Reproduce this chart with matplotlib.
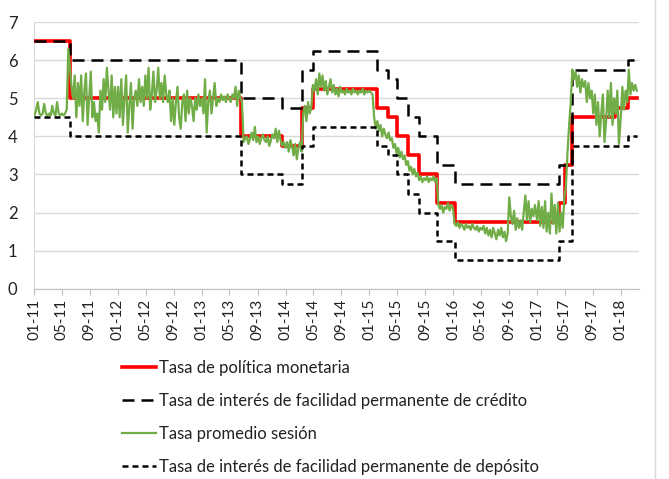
import matplotlib
matplotlib.use('Agg')
import matplotlib.pyplot as plt
import matplotlib.dates as mdates
from matplotlib.lines import Line2D
import pandas as pd

plt.rcParams['font.family'] = ['Lato', 'DejaVu Sans']

# step series: date of change -> value
tpm_dates = ['2011-01-01', '2011-06-06', '2013-06-20', '2013-12-15', '2014-03-12',
             '2014-05-01', '2015-02-03', '2015-03-24', '2015-05-01', '2015-06-18',
             '2015-08-05', '2015-10-25', '2016-01-10', '2017-04-06', '2017-05-04',
             '2017-06-01', '2017-12-07', '2018-02-01', '2018-03-12']
tpm = [6.5, 5.0, 4.0, 3.75, 4.75, 5.25, 4.75, 4.5, 4.0, 3.5, 3.0, 2.25, 1.75,
       2.25, 3.25, 4.5, 4.75, 5.0, 5.0]

band_dates = ['2011-01-01', '2011-06-06', '2013-06-20', '2013-12-15', '2014-03-12',
              '2014-05-01', '2015-02-03', '2015-03-24', '2015-05-01', '2015-06-18',
              '2015-08-05', '2015-10-25', '2016-01-10', '2017-04-06', '2017-06-01',
              '2018-02-01', '2018-03-12']
credito = [6.5, 6.0, 5.0, 4.75, 5.75, 6.25, 5.75, 5.5, 5.0, 4.5, 4.0, 3.25, 2.75,
           3.25, 5.75, 6.0, 6.0]
deposito = [4.5, 4.0, 3.0, 2.75, 3.75, 4.25, 3.75, 3.5, 3.0, 2.5, 2.0, 1.25, 0.75,
            1.25, 3.75, 4.0, 4.0]

# weekly average session rate
prom_2011 = [4.55, 4.7, 4.9, 4.6, 4.55, 4.6, 4.85, 4.6, 4.55, 4.6, 4.55, 4.8, 4.6,
             4.55, 4.9, 4.6, 4.55, 4.6, 4.55, 4.6, 4.7, 6.3, 5.8, 5.3, 5.0, 5.6,
             4.5, 5.4, 4.8, 5.6, 4.4, 5.2, 5.65, 4.3, 5.0, 5.7, 4.5, 4.9, 4.4,
             4.6, 4.1, 5.2, 4.7, 5.5, 4.9, 5.8, 5.2, 4.7, 5.6, 4.5, 5.3, 4.6]
prom_2012 = [5.3, 4.5, 5.5, 4.3, 5.0, 5.6, 4.1, 4.8, 5.4, 4.2, 5.0, 5.2, 4.8, 5.5,
             4.9, 5.3, 4.8, 5.6, 5.0, 5.8, 4.7, 5.1, 5.7, 4.9, 5.2, 5.8, 5.0, 5.4,
             4.9, 5.6, 5.1, 4.9, 5.2, 4.4, 5.0, 4.3, 4.9, 5.3, 4.5, 4.2, 4.9, 5.1,
             4.4, 5.2, 4.6, 5.0, 4.8, 4.4, 5.0, 4.7, 5.1, 4.8]
prom_2013 = [5.0, 4.6, 5.5, 4.1, 4.9, 5.2, 4.6, 5.0, 5.4, 4.8, 5.0, 4.9, 5.1, 4.95,
             5.05, 4.9, 5.1, 5.0, 4.9, 5.1, 5.0, 5.3, 4.8, 5.2, 5.0, 4.9, 3.85,
             3.95, 4.0, 3.8, 3.95, 4.1, 3.9, 4.25, 3.85, 4.0, 3.8, 3.95, 4.05, 3.9,
             3.85, 4.0, 3.75, 3.9, 4.05, 3.95, 4.2, 3.85, 4.15, 3.9, 3.75, 3.85]
prom_2014 = [3.7, 3.85, 3.6, 3.9, 3.75, 3.5, 3.8, 3.4, 3.7, 3.85, 3.6, 4.6, 4.8,
             4.4, 4.9, 4.6, 4.75, 5.35, 5.2, 5.5, 5.1, 5.65, 5.3, 5.6, 5.2, 5.45,
             5.1, 5.3, 5.5, 5.15, 5.35, 5.1, 5.25, 5.05, 5.3, 5.15, 5.2, 5.1, 5.25,
             5.15, 5.2, 5.1, 5.25, 5.15, 5.2, 5.1, 5.2, 5.15, 5.25, 5.1, 5.2, 5.15]
prom_2015 = [5.2, 5.15, 5.1, 4.5, 4.2, 4.4, 4.15, 4.3, 4.0, 4.2, 4.05, 3.95, 4.1,
             3.9, 3.95, 3.7, 3.8, 3.55, 3.7, 3.45, 3.6, 3.4, 3.5, 3.25, 3.35, 3.1,
             3.2, 3.0, 3.15, 2.95, 3.05, 2.85, 2.95, 2.8, 2.9, 2.85, 2.95, 2.8, 2.9,
             2.85, 2.95, 2.8, 2.9, 2.2, 2.1, 2.2, 2.0, 2.15, 2.1, 2.25, 2.05, 2.2]
prom_2016 = [2.1, 1.7, 1.65, 1.75, 1.6, 1.7, 1.65, 1.55, 1.7, 1.6, 1.65, 1.55, 1.7,
             1.6, 1.55, 1.65, 1.5, 1.6, 1.55, 1.65, 1.45, 1.6, 1.4, 1.55, 1.35, 1.6,
             1.45, 1.3, 1.55, 1.4, 1.6, 1.35, 1.5, 1.25, 1.45, 2.4, 1.9, 1.7, 2.05,
             1.55, 1.85, 1.6, 1.8, 1.55, 2.0, 2.45, 1.8, 2.3, 1.75, 2.1, 1.9, 2.2]
prom_2017 = [1.8, 2.3, 1.65, 2.15, 1.6, 2.3, 1.5, 2.0, 1.45, 2.5, 1.7, 2.2, 1.45,
             2.25, 1.5, 2.0, 1.6, 2.4, 2.7, 3.6, 4.3, 4.9, 5.75, 5.5, 5.7, 5.3, 5.6,
             5.15, 5.5, 5.3, 5.45, 4.9, 5.4, 5.0, 5.2, 4.6, 5.1, 4.3, 4.9, 4.0, 4.6,
             5.1, 3.85, 4.4, 5.2, 4.5, 5.4, 4.3, 5.0, 4.6, 5.2, 3.8]
prom_2018 = [4.5, 5.3, 4.7, 5.2, 4.9, 5.75, 5.1, 5.4, 5.2, 5.35, 5.2]

years = ['2011-01-03', '2012-01-02', '2013-01-01', '2014-01-01', '2015-01-01',
         '2016-01-01', '2017-01-01', '2018-01-01']
blocks = [prom_2011, prom_2012, prom_2013, prom_2014, prom_2015, prom_2016,
          prom_2017, prom_2018]

prom_dates = []
prom = []
for start, vals in zip(years, blocks):
    prom_dates += list(pd.date_range(start, periods=len(vals), freq='7D'))
    prom += vals

labels = ['Tasa de política monetaria',
          'Tasa de interés de facilidad permanente de crédito',
          'Tasa promedio sesión',
          'Tasa de interés de facilidad permanente de depósito']

fig = plt.figure(figsize=(6.69, 4.79), dpi=100)
ax = fig.add_axes([0.051, 0.397, 0.904, 0.557])

tpm_d = pd.to_datetime(tpm_dates)
band_d = pd.to_datetime(band_dates)

ax.step(tpm_d, tpm, where='post', color='#ff0000', lw=2.6, label=labels[0], zorder=3)
ax.step(band_d, credito, where='post', color='black', lw=1.8, dashes=(4.8, 2.8),
        label=labels[1], zorder=4)
ax.plot(prom_dates, prom, color='#70ad47', lw=1.6, label=labels[2], zorder=5)
ax.step(band_d, deposito, where='post', color='black', lw=1.8, dashes=(2.4, 1.6),
        label=labels[3], zorder=6)

ax.set_ylim(0, 7)
ax.set_yticks(range(0, 8))
ax.set_xlim(pd.Timestamp('2011-01-01'), pd.Timestamp('2018-03-21'))
ax.xaxis.set_major_locator(mdates.MonthLocator(bymonth=[1, 5, 9]))
ax.xaxis.set_major_formatter(mdates.DateFormatter('%m-%y'))

ax.grid(axis='y', color='#d9d9d9', lw=1.0)
ax.set_axisbelow(True)
for s in ['top', 'right']:
    ax.spines[s].set_visible(False)
ax.spines['left'].set_color('#d9d9d9')
ax.spines['bottom'].set_color('#bfbfbf')
ax.tick_params(axis='y', length=0, labelsize=12, labelcolor='#222222', pad=12)
ax.tick_params(axis='x', length=4, color='#bfbfbf', labelsize=11,
               labelcolor='#222222', rotation=90, pad=3)

fig.legend(loc='upper left', bbox_to_anchor=(0.173, 0.262), frameon=False,
           fontsize=12, handlelength=2.0, handletextpad=0.2, labelspacing=1.02,
           borderaxespad=0, labelcolor='#222222')

# chart area border on the right
fig.add_artist(Line2D([0.979, 0.979], [0, 1], transform=fig.transFigure,
                      color='#d9d9d9', lw=1.0))

fig.savefig('out.png', dpi=100)
